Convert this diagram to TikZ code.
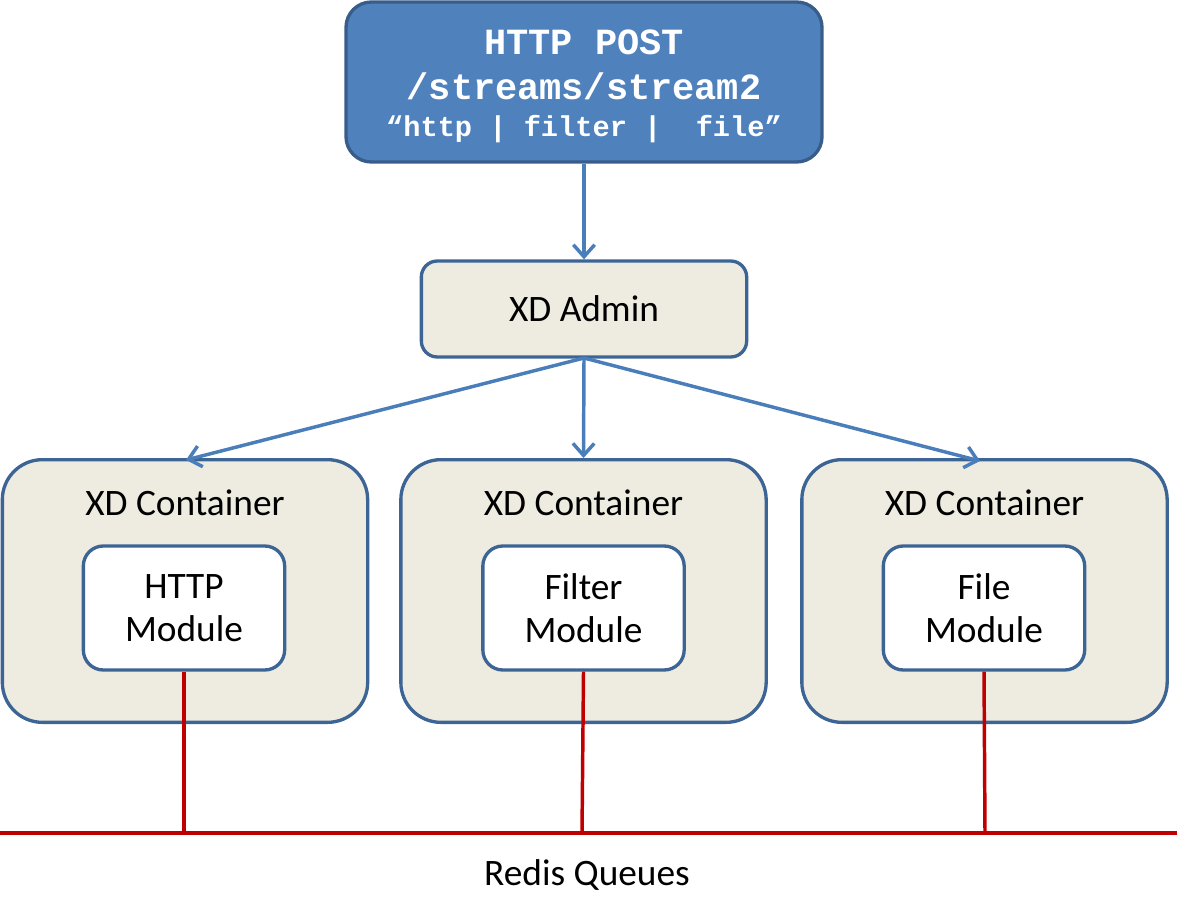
\documentclass[tikz,border=0pt]{standalone}
\usepackage{fontspec}
\setmainfont{Carlito}
\newfontfamily\monob{Liberation Mono}[BoldFont={Liberation Mono Bold}]
\usetikzlibrary{arrows.meta}
\definecolor{topfill}{HTML}{4F81BD}
\definecolor{topdraw}{HTML}{385D8A}
\definecolor{beige}{HTML}{EEECE1}
\definecolor{bdraw}{HTML}{3C6494}
\definecolor{arrowblue}{HTML}{4A7EBB}
\definecolor{redq}{HTML}{C00000}
\begin{document}
\begin{tikzpicture}[x=0.75pt,y=-0.75pt,
  boxbase/.style={draw=bdraw,line width=2.5pt,inner sep=0pt},
  topbox/.style={boxbase,draw=topdraw,fill=topfill,rounded corners=19pt,minimum width=357pt,minimum height=120pt},
  adminbox/.style={boxbase,fill=beige,rounded corners=12pt,minimum width=244pt,minimum height=72pt,font=\fontsize{28}{32}\selectfont},
  contbox/.style={boxbase,fill=beige,rounded corners=30pt,minimum width=274pt,minimum height=197pt},
  modbox/.style={boxbase,fill=white,rounded corners=15pt,minimum width=151pt,minimum height=93pt,align=center,font=\fontsize{28}{32.5}\selectfont},
  lbl/.style={font=\fontsize{28}{32}\selectfont,inner sep=0pt},
  mono/.style={text=white,inner sep=0pt,anchor=base},
  arr/.style={draw=arrowblue,line width=2.6pt,-{Straight Barb[length=9pt,width=16pt,line width=2.6pt]}},
  redline/.style={draw=redq,line width=2.6pt}]
\useasboundingbox (0,0) rectangle (1177,920);
% top box
\node[topbox] (top) at (584,82) {};
\node[mono,font=\monob\bfseries\fontsize{27.7}{30}\selectfont] (t1) at (584,55) {HTTP POST};
\node[mono,font=\monob\bfseries\fontsize{27.7}{30}\selectfont] (t2) at (584,100) {/streams/stream2};
\node[mono,font=\monob\bfseries\fontsize{21.5}{24}\selectfont] (t3) at (584,137) {“http | filter |\ \ file”};
% admin
\node[adminbox] (admin) at (584,309) {XD Admin};
% containers
\node[contbox] (c1) at (185,591) {};
\node[contbox] (c2) at (583.5,591) {};
\node[contbox] (c3) at (984.5,591) {};
\node[lbl] (l1) at (185,503) {XD Container};
\node[lbl] (l2) at (583.5,503) {XD Container};
\node[lbl] (l3) at (984.5,503) {XD Container};
\node[modbox] (m1) at (184,608) {HTTP\\Module};
\node[modbox] (m2) at (583.5,608) {Filter\\Module};
\node[modbox] (m3) at (984,608) {File\\Module};
% arrows
\draw[arr] (top.south) -- (admin.north);
\coordinate (as) at (584,358);
\coordinate (e1) at (186,460);
\coordinate (e3) at (980,461);
\draw[arr] (as) -- (e1);
\draw[arr] (as) -- (c2.north);
\draw[arr] (as) -- (e3);
% redis
\coordinate (q1) at (184,833);
\coordinate (q2) at (582,833);
\coordinate (q3) at (985,833);
\coordinate (qa) at (0,833);
\coordinate (qb) at (1177,833);
\draw[redline] (qa) -- (qb);
\draw[redline] (m1.south) -- (q1);
\draw[redline] (m2.south) -- (q2);
\draw[redline] (m3.south) -- (q3);
\node[lbl] (redis) at (587,875) {Redis Queues};
\end{tikzpicture}
\end{document}
